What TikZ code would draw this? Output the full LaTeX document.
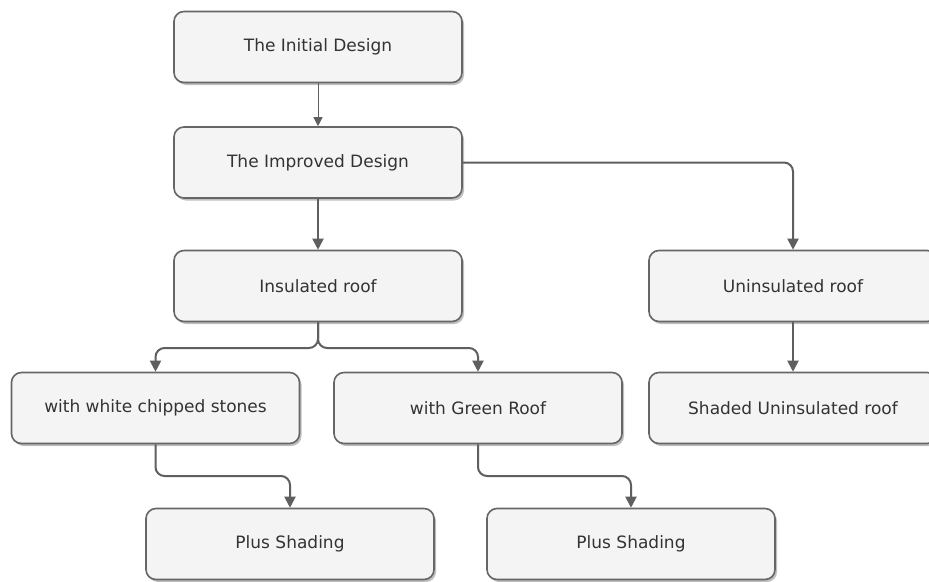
\documentclass[tikz,border=0pt]{standalone}
\usepackage{fontspec}
\setmainfont{DejaVu Sans}
\usetikzlibrary{arrows.meta,shadows}
\definecolor{boxfill}{HTML}{F4F4F4}
\definecolor{boxline}{HTML}{666666}
\definecolor{conn}{HTML}{5F5F5F}
\definecolor{txt}{HTML}{333333}
\begin{document}
\begin{tikzpicture}[x=1pt,y=-1pt,
  flowbox/.style={draw=boxline, line width=1.6pt, fill=boxfill, rounded corners=10pt,
    minimum width=288pt, minimum height=71pt, inner sep=0pt, text=txt,
    font=\fontsize{17}{20}\selectfont,
    drop shadow={shadow xshift=2pt, shadow yshift=-2.5pt, opacity=0.25, fill=black}},
  thinconn/.style={draw=conn, line width=1pt, -{Triangle[width=9pt,length=9pt]}},
  conn/.style={draw=conn, line width=2pt, rounded corners=9pt, -{Triangle[width=11pt,length=11pt]}}]
\useasboundingbox (0,0) rectangle (929,581);
\fill[white] (0,0) rectangle (929,581);
\node[flowbox] (b1) at (318,47) {The Initial Design};
\node[flowbox] (b2) at (318,162.5) {The Improved Design};
\node[flowbox] (b3) at (318,286) {Insulated roof};
\node[flowbox] (b4) at (793,286) {Uninsulated roof};
\node[flowbox] (b5) at (155.5,408) {with white chipped stones};
\node[flowbox] (b6) at (478,408) {with Green Roof};
\node[flowbox] (b7) at (793,408) {Shaded Uninsulated roof};
\node[flowbox] (b8) at (290,544) {Plus Shading};
\node[flowbox] (b9) at (631,544) {Plus Shading};
\coordinate (j1) at (318,348);
\coordinate (j2) at (155.5,476);
\coordinate (j3) at (478,476);
\draw[thinconn] (b1.south) -- (b2.north);
\draw[conn] (b2.south) -- (b3.north);
\draw[conn] (b2.east) -| (b4.north);
\draw[conn] (b3.south) -- (j1) -| (b5.north);
\draw[conn] (b3.south) -- (j1) -| (b6.north);
\draw[conn] (b4.south) -- (b7.north);
\draw[conn] (b5.south) -- (j2) -| (b8.north);
\draw[conn] (b6.south) -- (j3) -| (b9.north);
\end{tikzpicture}
\end{document}
